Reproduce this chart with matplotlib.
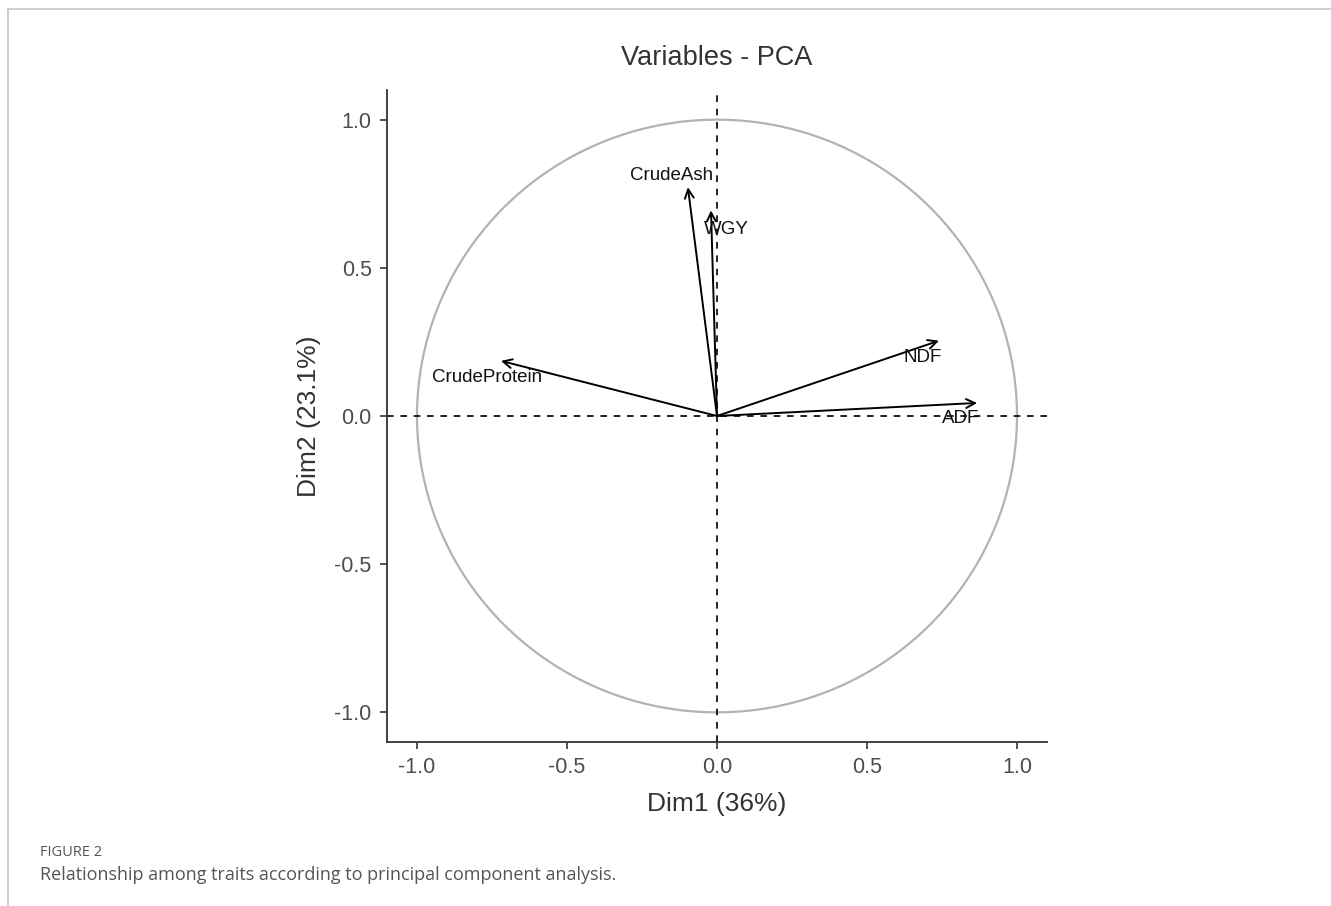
import matplotlib
matplotlib.use("Agg")
import matplotlib.pyplot as plt
import numpy as np
from matplotlib.lines import Line2D

variables = ["CrudeAsh", "WGY", "CrudeProtein", "NDF", "ADF"]
dim1 = [-0.097, -0.020, -0.720, 0.740, 0.867]
dim2 = [0.772, 0.694, 0.186, 0.254, 0.044]
ticks = [-1.0, -0.5, 0.0, 0.5, 1.0]
tick_labels = ["-1.0", "-0.5", "0.0", "0.5", "1.0"]

# label offsets (points) relative to arrow tips
offsets = {"CrudeAsh": (-12, 8.5), "WGY": (11, -13.5), "CrudeProtein": (-10, -12),
           "NDF": (-12, -12), "ADF": (-12, -11.5)}

fig = plt.figure(figsize=(13.31, 9.06), dpi=100)
ax = fig.add_axes([387/1331, 1-742/906, 660/1331, 652/906])

theta = np.linspace(0, 2*np.pi, 400)
ax.plot(np.cos(theta), np.sin(theta), color="#B3B3B3", lw=1.6, zorder=1)
ax.axhline(0, color="black", ls=(0, (4, 4)), lw=1.2, zorder=2)
ax.axvline(0, color="black", ls=(0, (4, 4)), lw=1.2, zorder=2)

for name, x, y in zip(variables, dim1, dim2):
    ax.annotate("", xy=(x, y), xytext=(0, 0),
                arrowprops=dict(arrowstyle="->", color="black", lw=1.4,
                                mutation_scale=16, shrinkA=0, shrinkB=0), zorder=3)
    dx, dy = offsets[name]
    ax.annotate(name, xy=(x, y), xytext=(dx, dy), textcoords="offset points",
                ha="center", va="center", fontsize=13.5, color="#111111",
                family="Liberation Sans", zorder=4)

ax.set_xlim(-1.1, 1.1)
ax.set_ylim(-1.1, 1.1)
ax.set_xticks(ticks)
ax.set_xticklabels(tick_labels)
ax.set_yticks(ticks)
ax.set_yticklabels(tick_labels)
for sp in ["top", "right"]:
    ax.spines[sp].set_visible(False)
for sp in ["left", "bottom"]:
    ax.spines[sp].set_color("#333333")
    ax.spines[sp].set_linewidth(1.3)
ax.tick_params(axis="both", colors="#333333", labelcolor="#4D4D4D", labelsize=15.5,
               length=5, width=1.2, pad=6)
for lab in ax.get_xticklabels() + ax.get_yticklabels():
    lab.set_family("Liberation Sans")

ax.set_xlabel("Dim1 (36%)", fontsize=19, color="#333333", family="Liberation Sans", labelpad=10)
ax.set_ylabel("Dim2 (23.1%)", fontsize=19, color="#333333", family="Liberation Sans", labelpad=10)
ax.set_title("Variables - PCA", fontsize=19.5, color="#333333", family="Liberation Sans", pad=18)

# frame lines (top and left)
fig.add_artist(Line2D([8/1331, 1.0], [1-9/906, 1-9/906], color="#C8C8C8", lw=1.2, transform=fig.transFigure))
fig.add_artist(Line2D([8/1331, 8/1331], [0, 1-9/906], color="#C8C8C8", lw=1.2, transform=fig.transFigure))

fig.text(40/1331, 1-853/906, "FIGURE 2", fontsize=10.5, color="#555555", family="Open Sans", va="center")
fig.text(40/1331, 1-875/906, "Relationship among traits according to principal component analysis.",
         fontsize=13, color="#555555", family="Open Sans", va="center")

fig.savefig("out.png", dpi=100)
